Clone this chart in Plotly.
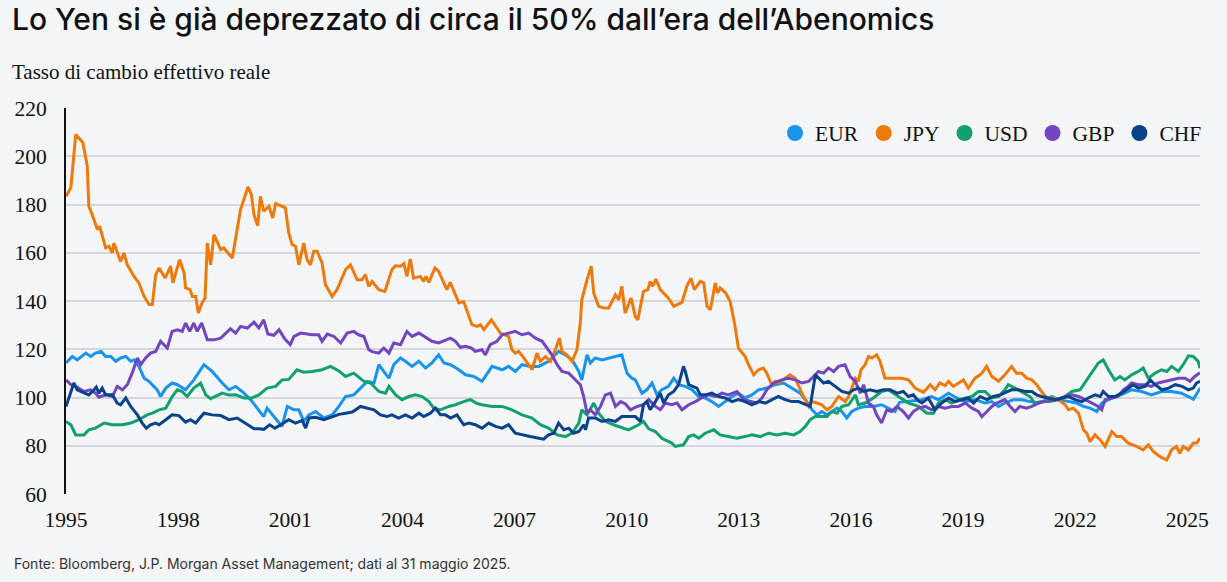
import plotly.graph_objects as go

# ---------------- DATA (decimal years, index values) ----------------
EUR_T = [1995.00,1995.17,1995.30,1995.53,1995.66,1995.79,1995.94,1996.06,1996.20,1996.33,1996.46,1996.60,1996.73,1996.82,1996.95,
         1997.09,1997.22,1997.35,1997.44,1997.53,1997.67,1997.84,1997.98,1998.20,1998.42,1998.69,1998.91,1999.18,1999.36,1999.54,
         1999.71,1999.94,2000.16,2000.29,2000.38,2000.52,2000.70,2000.78,2000.92,2001.10,2001.23,2001.36,2001.50,2001.68,2001.90,
         2002.12,2002.30,2002.48,2002.70,2002.88,2003.06,2003.24,2003.37,2003.50,2003.64,2003.77,2003.95,2004.08,2004.26,2004.44,
         2004.62,2004.79,2004.97,2005.11,2005.29,2005.51,2005.69,2005.91,2006.13,2006.40,2006.67,2006.84,2007.02,2007.20,2007.42,
         2007.65,2007.91,2008.18,2008.36,2008.54,2008.72,2008.80,2008.94,2009.03,2009.16,2009.34,2009.52,2009.70,2009.87,2010.01,
         2010.14,2010.23,2010.41,2010.54,2010.68,2010.81,2010.94,2011.12,2011.26,2011.39,2011.57,2011.75,2011.93,2012.10,2012.28,
         2012.46,2012.59,2012.82,2012.99,2013.17,2013.35,2013.53,2013.75,2013.97,2014.20,2014.42,2014.64,2014.82,2014.96,2015.09,
         2015.22,2015.36,2015.49,2015.63,2015.76,2015.89,2016.02,2016.20,2016.38,2016.60,2016.82,2017.00,2017.18,2017.30,2017.63,
         2017.90,2018.16,2018.34,2018.61,2018.83,2019.06,2019.32,2019.59,2019.77,2019.95,2020.12,2020.35,2020.57,2020.79,2021.02,
         2021.24,2021.37,2021.55,2021.82,2022.04,2022.22,2022.40,2022.58,2022.71,2022.89,2023.11,2023.33,2023.51,2023.78,2024.04,
         2024.31,2024.58,2024.84,2025.03,2025.16,2025.29,2025.34]
EUR_V = [114.3,117.0,115.6,118.4,117.0,118.4,119.1,117.0,117.0,115.0,116.4,117.0,115.0,115.6,112.9,
         108.0,106.7,104.6,103.2,100.4,103.9,106.0,105.3,103.2,107.3,113.6,110.8,106.0,103.2,104.6,
         102.5,99.1,94.9,92.1,95.6,92.8,89.4,88.0,96.3,94.9,94.9,90.1,92.8,94.2,91.5,
         92.8,96.3,100.4,101.1,103.9,106.7,106.0,113.6,110.8,108.0,113.6,116.4,115.0,112.9,115.0,
         112.2,114.3,117.7,114.3,113.6,111.5,109.4,108.7,106.7,112.9,111.5,112.9,110.8,113.6,112.9,
         112.9,115.0,119.1,117.7,115.6,110.8,107.3,117.7,114.3,116.4,115.6,116.4,117.0,117.7,110.1,
         108.0,107.3,101.8,103.2,106.0,101.1,103.2,104.6,108.0,105.3,104.6,103.2,100.4,99.8,98.3,
         96.3,97.7,100.4,101.8,99.8,101.1,103.2,103.9,105.3,106.0,103.9,101.8,98.3,94.9,92.8,
         94.2,92.8,94.2,95.6,94.2,91.5,94.2,95.6,96.3,96.3,97.0,95.6,94.2,98.0,98.5,
         99.1,100.4,99.1,101.8,99.8,98.3,99.1,97.7,98.3,96.3,97.7,99.1,99.1,98.3,97.7,
         99.1,100.4,99.1,98.3,97.7,96.3,95.6,94.2,97.7,99.1,100.4,101.8,103.2,102.5,101.1,
         102.5,102.5,101.8,100.4,99.3,102.5,103.9]

JPY_T = [1995.00,1995.13,1995.26,1995.45,1995.57,1995.61,1995.70,1995.84,1995.90,1996.06,1996.15,1996.24,1996.28,1996.46,1996.55,
         1996.64,1996.82,1996.95,1997.09,1997.22,1997.31,1997.40,1997.49,1997.65,1997.80,1997.86,1998.04,1998.16,1998.20,1998.32,
         1998.38,1998.47,1998.54,1998.64,1998.72,1998.78,1998.87,1998.96,1999.14,1999.22,1999.45,1999.67,1999.87,1999.96,2000.03,
         2000.13,2000.20,2000.29,2000.43,2000.53,2000.61,2000.78,2000.87,2000.96,2001.05,2001.14,2001.23,2001.36,2001.45,2001.54,
         2001.63,2001.72,2001.85,2001.94,2002.12,2002.25,2002.48,2002.61,2002.79,2002.92,2003.01,2003.10,2003.19,2003.37,2003.53,
         2003.72,2003.81,2003.95,2004.04,2004.12,2004.21,2004.30,2004.48,2004.57,2004.63,2004.71,2004.87,2004.97,2005.19,2005.28,
         2005.51,2005.64,2005.86,2006.00,2006.09,2006.18,2006.38,2006.53,2006.62,2006.84,2006.93,2007.02,2007.11,2007.25,2007.47,
         2007.60,2007.69,2007.83,2007.96,2008.09,2008.20,2008.27,2008.40,2008.54,2008.67,2008.76,2008.80,2008.94,2009.05,2009.12,
         2009.25,2009.39,2009.52,2009.70,2009.79,2009.87,2009.96,2010.12,2010.23,2010.30,2010.45,2010.57,2010.63,2010.70,2010.78,
         2010.90,2011.12,2011.26,2011.48,2011.61,2011.72,2011.81,2011.97,2012.06,2012.15,2012.24,2012.37,2012.43,2012.50,2012.65,
         2012.77,2012.90,2012.99,2013.17,2013.26,2013.40,2013.53,2013.66,2013.75,2013.88,2013.97,2014.06,2014.24,2014.37,2014.51,
         2014.60,2014.73,2014.87,2014.96,2015.09,2015.22,2015.36,2015.49,2015.67,2015.85,2015.94,2016.12,2016.20,2016.27,2016.38,
         2016.47,2016.56,2016.69,2016.78,2016.91,2017.09,2017.36,2017.54,2017.72,2017.94,2018.12,2018.25,2018.38,2018.52,2018.61,
         2018.74,2018.88,2019.01,2019.14,2019.32,2019.46,2019.54,2019.63,2019.77,2019.95,2020.12,2020.30,2020.43,2020.57,2020.70,
         2020.84,2020.97,2021.10,2021.24,2021.37,2021.55,2021.73,2021.82,2021.95,2022.09,2022.22,2022.31,2022.40,2022.53,2022.67,
         2022.80,2022.98,2023.11,2023.24,2023.42,2023.64,2023.82,2023.96,2024.09,2024.27,2024.45,2024.58,2024.71,2024.80,2024.89,
         2025.03,2025.16,2025.25,2025.34]
JPY_V = [183.4,187.0,209.0,205.7,195.9,179.3,175.8,169.6,171.0,162.0,162.7,159.9,164.0,156.4,159.9,
         155.0,150.2,147.5,141.9,138.5,138.5,150.9,153.7,149.5,154.4,147.5,157.1,151.6,145.4,144.7,
         141.9,141.9,135.0,139.2,141.2,164.0,155.0,167.5,161.3,162.0,157.8,177.9,187.3,184.1,175.8,
         171.2,183.4,177.2,179.3,174.4,180.4,179.3,178.6,168.2,163.4,162.7,155.0,164.0,157.1,155.0,
         160.6,160.6,155.8,146.8,141.9,144.7,153.0,155.0,148.8,148.8,150.9,146.1,148.1,144.7,144.0,
         153.0,154.6,154.4,155.5,150.2,157.4,149.5,150.2,148.1,150.2,147.7,153.7,152.3,144.7,147.7,
         139.2,139.8,130.2,129.5,130.2,128.1,132.2,128.8,126.7,125.3,119.8,118.4,119.1,116.4,111.5,
         118.4,115.0,117.0,115.0,119.8,124.6,119.1,117.7,115.0,119.8,130.9,140.5,148.8,154.4,143.3,
         137.8,137.1,137.1,142.6,140.5,146.1,135.0,141.2,133.6,132.2,144.0,144.7,148.1,146.1,149.1,
         144.7,141.2,137.8,139.4,146.1,149.5,144.7,148.1,147.5,137.8,136.4,147.5,143.3,145.4,143.3,
         139.8,129.5,120.5,117.0,113.6,109.4,111.5,112.2,110.1,105.3,106.7,106.0,108.0,109.4,108.0,
         104.6,100.4,96.3,98.3,97.7,97.0,94.9,96.3,100.4,98.3,100.4,108.0,106.7,111.5,113.6,
         117.0,116.4,117.7,115.0,108.0,108.0,108.0,107.3,103.9,102.1,105.3,103.2,106.0,104.9,106.7,
         104.6,106.0,107.3,103.9,108.0,109.4,110.8,112.9,108.7,106.7,109.4,112.9,110.1,110.1,108.0,
         107.3,105.3,102.5,99.8,99.8,99.1,97.0,94.9,95.6,93.5,86.6,85.2,81.7,84.5,82.4,
         79.7,85.9,83.8,83.8,81.1,79.7,78.3,80.4,77.6,75.5,74.1,78.3,79.7,76.9,79.7,
         78.3,81.1,81.1,83.2]

USD_T = [1995.00,1995.13,1995.26,1995.48,1995.61,1995.79,1996.02,1996.24,1996.51,1996.73,1996.95,1997.17,1997.31,1997.49,1997.67,
         1997.84,1997.98,1998.11,1998.24,1998.42,1998.60,1998.74,1998.87,1999.00,1999.18,1999.36,1999.54,1999.76,1999.98,2000.16,
         2000.38,2000.61,2000.78,2000.96,2001.18,2001.36,2001.59,2001.85,2002.08,2002.30,2002.48,2002.70,2002.97,2003.15,2003.37,
         2003.55,2003.64,2003.82,2003.99,2004.17,2004.35,2004.53,2004.71,2004.84,2005.02,2005.24,2005.42,2005.64,2005.82,2006.00,
         2006.13,2006.40,2006.67,2006.93,2007.20,2007.47,2007.69,2007.91,2008.14,2008.36,2008.54,2008.72,2008.80,2008.94,2009.12,
         2009.25,2009.43,2009.65,2009.87,2010.05,2010.32,2010.45,2010.59,2010.77,2010.94,2011.21,2011.30,2011.52,2011.66,2011.79,
         2011.93,2012.10,2012.33,2012.50,2012.72,2012.95,2013.17,2013.35,2013.57,2013.80,2014.02,2014.24,2014.47,2014.64,2014.78,
         2014.91,2015.05,2015.18,2015.36,2015.49,2015.63,2015.76,2015.94,2016.12,2016.20,2016.38,2016.60,2016.82,2017.00,2017.27,
         2017.54,2017.81,2018.03,2018.21,2018.34,2018.52,2018.70,2018.88,2019.06,2019.24,2019.41,2019.59,2019.77,2019.95,2020.12,
         2020.21,2020.39,2020.61,2020.79,2020.92,2021.10,2021.32,2021.55,2021.73,2021.91,2022.13,2022.31,2022.49,2022.62,2022.75,
         2022.89,2023.06,2023.20,2023.33,2023.51,2023.69,2023.82,2023.96,2024.14,2024.31,2024.45,2024.58,2024.76,2024.89,2025.03,
         2025.16,2025.29,2025.34]
USD_V = [90.1,88.7,84.5,84.5,86.6,87.3,89.4,88.7,88.7,89.4,90.8,92.8,93.5,94.9,95.6,
         100.4,103.2,102.5,100.4,103.9,106.0,101.1,99.5,100.4,101.8,101.0,101.1,99.8,99.8,101.1,
         103.9,104.6,107.3,107.5,111.5,110.5,110.8,111.5,112.9,111.0,108.7,110.1,106.7,106.0,102.5,
         101.8,104.6,101.1,99.1,100.4,101.1,100.4,98.3,95.6,94.9,96.3,97.0,98.3,99.1,97.5,
         97.0,96.3,96.3,94.9,92.8,91.5,88.7,87.3,84.5,83.8,85.2,89.4,94.9,92.8,97.7,
         93.5,90.1,88.7,87.5,86.6,88.7,90.1,87.0,85.9,83.1,81.1,79.7,80.4,83.8,84.5,
         83.1,85.2,86.6,84.5,83.8,83.1,83.8,84.5,83.8,85.2,84.5,85.2,84.5,85.9,88.0,
         90.8,92.1,92.1,92.1,94.2,93.5,96.3,97.0,101.1,97.0,97.7,99.8,102.5,103.2,100.4,
         97.7,96.3,93.5,93.5,97.7,99.1,97.7,99.1,99.8,100.4,102.5,102.5,99.8,100.4,103.2,
         105.3,103.9,101.8,100.4,97.7,98.3,98.3,99.1,100.4,102.5,103.2,107.3,111.5,114.3,115.6,
         111.5,107.3,108.7,107.3,109.4,110.8,112.2,108.0,110.1,111.5,110.8,112.9,110.8,113.6,117.3,
         117.0,115.0,112.2]

GBP_T = [1995.00,1995.13,1995.26,1995.48,1995.66,1995.79,1995.88,1996.06,1996.24,1996.37,1996.51,1996.64,1996.77,1996.91,1997.00,
         1997.13,1997.26,1997.40,1997.53,1997.71,1997.84,1997.98,1998.11,1998.20,1998.31,1998.42,1998.51,1998.63,1998.78,1998.96,
         1999.14,1999.27,1999.40,1999.54,1999.67,1999.85,2000.03,2000.16,2000.29,2000.40,2000.56,2000.70,2000.85,2001.00,2001.10,
         2001.28,2001.41,2001.59,2001.76,2001.85,2001.99,2002.17,2002.35,2002.52,2002.70,2002.83,2002.97,2003.10,2003.19,2003.37,
         2003.50,2003.64,2003.77,2003.95,2004.12,2004.26,2004.44,2004.62,2004.79,2004.97,2005.15,2005.29,2005.42,2005.55,2005.69,
         2005.85,2005.95,2006.13,2006.22,2006.35,2006.53,2006.67,2006.84,2007.02,2007.20,2007.38,2007.56,2007.74,2007.87,2008.00,
         2008.14,2008.27,2008.45,2008.62,2008.76,2008.85,2008.94,2009.03,2009.16,2009.30,2009.43,2009.57,2009.70,2009.84,2009.97,
         2010.10,2010.28,2010.45,2010.59,2010.77,2010.90,2011.03,2011.21,2011.35,2011.48,2011.66,2011.84,2012.00,2012.19,2012.37,
         2012.55,2012.72,2012.95,2013.13,2013.31,2013.48,2013.62,2013.75,2013.93,2014.15,2014.33,2014.51,2014.69,2014.87,2015.00,
         2015.13,2015.27,2015.40,2015.54,2015.67,2015.84,2015.98,2016.12,2016.25,2016.34,2016.47,2016.60,2016.69,2016.82,2016.96,
         2017.09,2017.23,2017.40,2017.54,2017.67,2017.81,2017.99,2018.16,2018.34,2018.52,2018.70,2018.88,2019.06,2019.24,2019.41,
         2019.50,2019.64,2019.77,2019.90,2020.12,2020.26,2020.39,2020.52,2020.70,2020.84,2021.02,2021.19,2021.37,2021.55,2021.73,
         2021.91,2022.09,2022.27,2022.44,2022.62,2022.71,2022.80,2022.98,2023.15,2023.29,2023.42,2023.51,2023.69,2023.87,2024.04,
         2024.22,2024.40,2024.58,2024.76,2024.94,2025.07,2025.20,2025.34]
GBP_V = [107.3,105.3,104.6,102.5,103.2,101.8,100.1,101.1,100.4,104.6,103.2,105.3,110.1,116.4,113.6,
         116.4,118.4,119.1,123.3,120.5,127.4,128.1,127.4,130.9,127.4,130.9,127.4,130.9,123.9,123.9,
         124.6,126.7,128.5,126.7,129.5,128.8,131.2,128.8,132.2,126.3,125.8,128.1,124.3,121.9,125.3,
         126.7,126.3,126.0,126.0,123.3,126.3,125.3,122.6,126.7,127.4,126.0,125.3,119.8,119.0,118.4,
         120.5,118.4,122.6,121.9,127.4,125.3,126.7,124.8,123.3,122.6,123.9,124.6,123.3,120.8,121.2,
         120.5,119.1,119.8,117.7,121.9,123.3,126.0,126.7,127.4,126.0,126.7,124.6,123.3,120.5,117.7,
         113.6,110.8,110.1,107.3,105.3,100.4,93.5,94.9,92.8,96.3,101.1,101.8,96.3,98.3,97.3,
         94.9,96.3,97.0,99.1,96.3,94.9,97.7,97.0,97.7,94.9,97.0,98.3,99.8,101.1,100.4,
         101.8,101.1,102.5,99.1,98.3,97.7,99.8,103.2,106.0,107.3,108.0,107.3,106.0,106.7,108.7,
         110.8,110.1,112.2,110.8,112.9,113.6,108.7,106.7,101.8,105.3,97.7,96.3,92.8,89.4,94.9,
         94.2,96.3,94.2,91.5,94.2,95.6,96.3,94.9,96.3,95.6,96.3,96.3,97.7,95.6,94.2,
         92.1,94.2,96.3,97.7,99.1,96.3,94.2,96.3,95.6,96.3,97.7,98.3,99.1,99.1,100.4,
         101.1,100.4,99.1,97.7,96.3,94.9,99.1,99.8,100.4,103.2,104.6,106.0,105.3,105.3,104.6,
         106.0,106.7,107.3,108.0,108.0,106.7,108.7,110.3]

CHF_T = [1995.00,1995.09,1995.21,1995.30,1995.48,1995.61,1995.75,1995.81,1995.88,1995.97,1996.06,1996.24,1996.37,1996.46,1996.60,
         1996.73,1996.91,1997.04,1997.15,1997.26,1997.40,1997.49,1997.67,1997.84,1998.02,1998.20,1998.33,1998.47,1998.69,1998.91,
         1999.14,1999.36,1999.58,1999.80,2000.03,2000.16,2000.29,2000.45,2000.59,2000.78,2000.96,2001.14,2001.32,2001.41,2001.50,
         2001.68,2001.90,2002.12,2002.30,2002.48,2002.66,2002.88,2003.06,2003.24,2003.41,2003.59,2003.72,2003.90,2004.08,2004.26,
         2004.44,2004.57,2004.75,2004.88,2005.02,2005.15,2005.29,2005.46,2005.64,2005.78,2005.95,2006.13,2006.31,2006.49,2006.67,
         2006.84,2007.02,2007.20,2007.42,2007.65,2007.78,2007.91,2008.05,2008.18,2008.32,2008.45,2008.58,2008.72,2008.85,2008.90,
         2008.98,2009.16,2009.34,2009.52,2009.70,2009.87,2010.05,2010.23,2010.37,2010.45,2010.54,2010.63,2010.77,2010.90,2010.99,
         2011.12,2011.26,2011.39,2011.52,2011.57,2011.66,2011.75,2011.88,2011.97,2012.10,2012.28,2012.46,2012.64,2012.82,2012.99,
         2013.17,2013.35,2013.53,2013.71,2013.88,2014.06,2014.24,2014.42,2014.60,2014.78,2014.91,2015.05,2015.13,2015.27,2015.40,
         2015.58,2015.76,2015.94,2016.07,2016.20,2016.34,2016.51,2016.69,2016.87,2017.05,2017.23,2017.40,2017.54,2017.67,2017.81,
         2017.90,2018.07,2018.25,2018.43,2018.61,2018.79,2018.97,2019.14,2019.28,2019.46,2019.64,2019.81,2019.99,2020.17,2020.30,
         2020.48,2020.66,2020.84,2020.97,2021.10,2021.28,2021.46,2021.64,2021.82,2022.00,2022.18,2022.35,2022.53,2022.67,2022.75,
         2022.89,2023.06,2023.24,2023.42,2023.55,2023.69,2023.87,2024.01,2024.14,2024.32,2024.50,2024.68,2024.86,2025.03,2025.16,
         2025.25,2025.34]
CHF_V = [96.3,100.4,106.0,103.2,101.8,101.1,103.2,104.3,101.8,103.9,101.1,101.1,97.7,97.0,99.8,
         96.3,92.8,89.4,87.3,88.7,89.4,88.7,90.8,92.8,92.5,89.8,90.8,89.4,93.5,92.8,
         92.5,90.8,91.5,89.4,87.0,87.0,86.8,88.7,87.3,89.0,90.8,89.4,90.5,87.3,91.5,
         91.8,90.8,92.0,93.0,93.5,94.0,96.3,95.5,94.9,92.8,92.1,92.8,91.5,92.8,91.5,
         93.5,92.1,93.5,95.6,92.8,92.8,91.5,92.8,88.7,89.4,88.7,87.3,89.4,88.0,87.3,
         88.7,85.2,84.5,83.8,83.1,82.7,84.5,85.2,89.4,86.6,87.3,85.2,85.9,88.7,86.6,
         91.5,91.5,90.1,90.8,90.1,92.1,92.0,92.1,90.1,97.0,98.3,94.9,98.3,101.8,97.7,
         101.1,102.5,105.3,112.9,110.8,105.3,104.6,103.9,101.1,101.1,101.8,100.4,99.8,98.3,99.1,
         98.3,97.0,98.3,97.7,99.1,100.4,99.1,98.3,98.3,97.0,96.3,109.4,108.0,106.0,106.7,
         104.6,102.5,101.8,103.2,103.9,102.5,103.2,102.5,103.2,103.2,101.8,102.5,100.4,101.1,98.5,
         97.7,99.8,94.9,97.7,99.8,98.3,99.1,99.8,97.7,100.4,99.1,100.4,101.1,102.5,103.2,
         103.2,102.5,102.5,101.1,100.4,99.8,99.1,99.8,100.4,99.1,98.3,99.8,101.1,100.4,102.5,
         100.4,100.4,101.8,103.9,105.3,103.9,104.6,107.3,105.3,103.2,103.9,105.3,104.6,103.2,103.9,
         106.0,106.7]

SERIES = [("EUR", EUR_T, EUR_V, "#1893ee"),
          ("JPY", JPY_T, JPY_V, "#ee7a0c"),
          ("USD", USD_T, USD_V, "#12a06e"),
          ("GBP", GBP_T, GBP_V, "#7146c0"),
          ("CHF", CHF_T, CHF_V, "#0b438b")]

X_TICKS = [1995, 1998, 2001, 2004, 2007, 2010, 2013, 2016, 2019, 2022, 2025]
X_LABELS = [str(t) for t in X_TICKS]
Y_TICKS = [60, 80, 100, 120, 140, 160, 180, 200, 220]

TITLE = "Lo Yen si è già deprezzato di circa il 50% dall’era dell’Abenomics"
SUBTITLE = "Tasso di cambio effettivo reale"
FOOTER = "Fonte: Bloomberg, J.P. Morgan Asset Management; dati al 31 maggio 2025."

# ---------------- FIGURE ----------------
W, H = 1227, 582
ML, MR, MT, MB = 66, 27, 108, 88
BG = "#f4f5f7"
SERIF = "Liberation Serif, Times New Roman, serif"
SANS = "Inter, Roboto, Arial, sans-serif"
FS = 21.5

fig = go.Figure()
for name, t, v, col in SERIES:
    fig.add_trace(go.Scatter(x=t, y=v, mode="lines", name=name,
                             line=dict(color=col, width=3),
                             showlegend=False, legendgroup=name, hoverinfo="skip"))
for name, t, v, col in SERIES:
    fig.add_trace(go.Scatter(x=[None], y=[None], mode="markers", name=name,
                             marker=dict(color=col, size=16, symbol="circle"),
                             showlegend=True, legendgroup=name))

pw = W - ML - MR
ph = H - MT - MB

fig.update_layout(
    width=W, height=H,
    margin=dict(l=ML, r=MR, t=MT, b=MB),
    paper_bgcolor=BG, plot_bgcolor=BG,
    title=dict(text=TITLE, x=12 / W, xref="container", xanchor="left",
               y=1 - 19 / H, yref="container", yanchor="middle",
               font=dict(family=SANS, size=30, weight=500, color="#111111")),
    legend=dict(orientation="h", x=1.0 + 7 / pw, xanchor="right", y=(H - MB - 133) / ph, yanchor="middle",
                font=dict(family=SERIF, size=FS, color="#111111"),
                bgcolor="rgba(0,0,0,0)", itemclick=False, itemdoubleclick=False),
    xaxis=dict(range=[1995.0, 2025.34], tickvals=X_TICKS, ticktext=X_LABELS,
               showgrid=False, zeroline=False, showline=False, ticks="",
               tickfont=dict(family=SERIF, size=FS, color="#111111"), ticklabelstandoff=10),
    yaxis=dict(range=[60, 220], tickvals=Y_TICKS, showgrid=True, gridcolor="#d6d7da", gridwidth=1.6,
               zeroline=False, showline=True, linecolor="#111111", linewidth=2, ticks="",
               tickfont=dict(family=SERIF, size=FS, color="#111111"), ticklabelstandoff=13),
    annotations=[
        dict(text=SUBTITLE, xref="paper", yref="paper", x=(10 - ML) / pw, y=(H - MB - 72) / ph,
             xanchor="left", yanchor="middle", showarrow=False,
             font=dict(family=SERIF, size=21, color="#111111")),
        dict(text=FOOTER, xref="paper", yref="paper", x=(12 - ML) / pw, y=(H - MB - 563) / ph,
             xanchor="left", yanchor="middle", showarrow=False,
             font=dict(family=SANS, size=14, color="#333333")),
    ],
)

fig.write_html("out.html")
